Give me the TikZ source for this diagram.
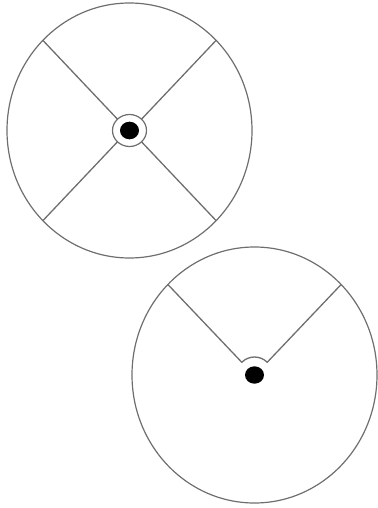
\documentclass[tikz,border=0pt]{standalone}
\usepackage{tikz}
\usetikzlibrary{calc}
\definecolor{cwire}{RGB}{110,110,110}

\begin{document}
\begin{tikzpicture}[x=1pt,y=-1pt,
    rim/.style={draw=cwire, line width=1.2pt},
    spoke/.style={draw=cwire, line width=1.3pt}]
    \useasboundingbox (0,0) rectangle (377,508);
    \coordinate (hubA) at (129.5,130.5);
    \coordinate (hubB) at (254.5,375);
    % upper wheel, four spokes
    \draw[rim] (hubA) ellipse [x radius=122.5, y radius=127.5];
    \foreach \a in {45,135,225,315}
      \draw[spoke] ($(hubA)+({17*cos(\a)},{16*sin(\a)})$) -- ($(hubA)+({122.5*cos(\a)},{127.5*sin(\a)})$);
    \draw[rim, fill=white] (hubA) ellipse [x radius=17, y radius=16];
    \fill (hubA) ellipse [x radius=9.5, y radius=8.8];
    % lower wheel, open sector
    \draw[rim] (hubB) ellipse [x radius=122.5, y radius=128];
    \draw[spoke] ($(hubB)+({122.5*cos(225)},{128*sin(225)})$) -- ($(hubB)+(225:18)$)
      arc[start angle=225, end angle=315, radius=18]
      -- ($(hubB)+({122.5*cos(315)},{128*sin(315)})$);
    \fill (hubB) ellipse [x radius=9.5, y radius=8.7];
\end{tikzpicture}
\end{document}
